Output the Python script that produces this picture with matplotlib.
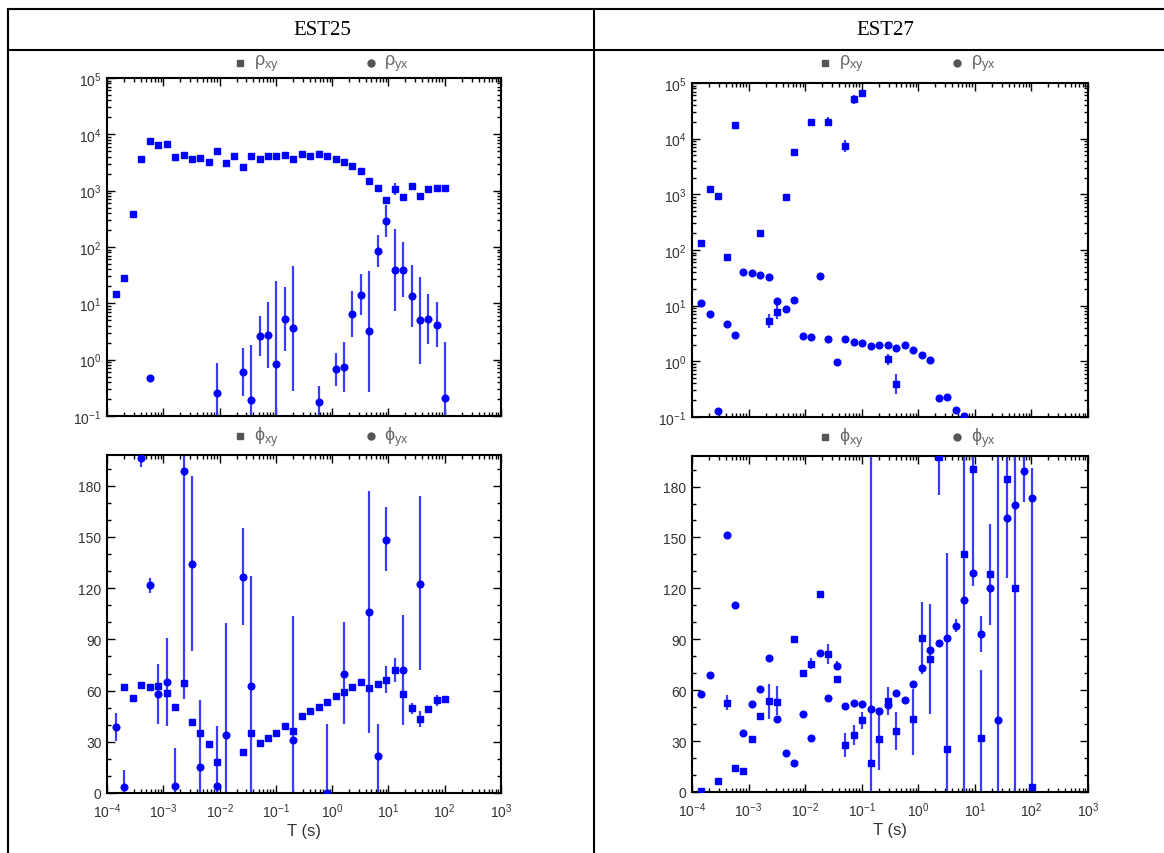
import numpy as np
import matplotlib
matplotlib.use("Agg")
import matplotlib.pyplot as plt
from matplotlib.lines import Line2D
from matplotlib.ticker import LogLocator, MultipleLocator, NullFormatter

plt.rcParams['font.family'] = ['Liberation Sans', 'DejaVu Sans']
plt.rcParams['mathtext.default'] = 'regular'

n = np.nan

# periods (s), same grid for both stations
period = [1.445e-4, 2.042e-4, 2.884e-4, 4.074e-4, 5.754e-4, 8.128e-4, 1.148e-3, 1.622e-3,
          2.291e-3, 3.236e-3, 4.571e-3, 6.457e-3, 9.120e-3, 1.288e-2, 1.820e-2, 2.570e-2,
          3.631e-2, 5.129e-2, 7.244e-2, 0.1023, 0.1445, 0.2042, 0.2884, 0.4074,
          0.5754, 0.8128, 1.148, 1.622, 2.291, 3.236, 4.571, 6.457,
          9.120, 12.88, 18.20, 25.70, 36.31, 51.29, 72.44, 102.3]

stations = ["EST25", "EST27"]

# ---- EST25 apparent resistivity
rho_xy_25 = [14.6, 27.8, 380, 3650, 7730, 6470, 6640, 3960, 4360, 3700,
             3800, 3270, 5060, 3100, 4070, 2590, 4120, 3650, 4060, 4120,
             4300, 3700, 4410, 4070, 4410, 4180, 3700, 3230, 2740, 2270,
             1460, 1130, 683, 1057, 762, 1210, 804, 1057, 1130, 1110]
rho_xy_25_lo = [n]*33 + [850, 650] + [n]*5
rho_xy_25_hi = [n]*33 + [1350, 870] + [n]*5

rho_yx_25 = [n, n, n, n, 0.47, n, n, n, n, n,
             n, n, 0.256, n, n, 0.60, 0.19, 2.6, 2.7, 0.85,
             5.3, 3.6, n, n, 0.175, n, 0.68, 0.74, 6.5, 14.3,
             3.2, 85, 293, 39.6, 39.6, 13.5, 5.0, 5.3, 4.2, 0.206]
rho_yx_25_lo = [n, n, n, n, n, n, n, n, n, n,
                n, n, 0.01, n, n, 0.226, 0.01, 1.15, 0.70, 0.01,
                1.4, 0.28, n, n, 0.01, n, 0.34, 0.27, 2.56, 6.1,
                0.27, 44, 151, 7.4, 13.1, 3.8, 0.85, 1.87, 1.66, 0.01]
rho_yx_25_hi = [n, n, n, n, n, n, n, n, n, n,
                n, n, 0.885, n, n, 1.63, 1.85, 5.9, 10.4, 24.9,
                19.8, 46, n, n, 0.34, n, 1.33, 2.1, 16.8, 32.7,
                37.5, 161, 550, 211, 123, 48, 29.3, 14.7, 10.7, 2.1]

# ---- EST25 phase
phi_xy_25 = [n, 62.1, 55.9, 63.1, 62.1, 62.5, 58.4, 50.6, 64.5, 41.8,
             35.4, 28.5, 18.2, n, n, 23.8, 35.0, 29.5, 32.1, 35.2,
             39.5, 36.2, 45.1, 48.1, 50.6, 53.2, 56.9, 59.4, 62.1, 65.1,
             61.8, 63.7, 66.3, 72.3, 58.2, 49.6, 43.6, 49.4, 54.3, 55.1]
phi_xy_25_lo = [n]*32 + [58.8, 65.1, 55.5, 46.1, 38.9, n, 51.0, n]
phi_xy_25_hi = [n]*32 + [74.5, 79.3, 61.0, 53.0, 48.1, n, 57.3, n]

phi_yx_25 = [38.9, 3.5, n, 196, 121.6, 57.8, 64.9, 3.9, 188.6, 134.3,
             15.0, n, 3.9, 34.0, n, 126.8, 62.5, n, n, n,
             n, 30.9, n, n, n, 0.0, n, 70.0, n, n,
             106.3, 21.7, 148.5, n, 71.9, n, 122.7, n, n, n]
phi_yx_25_lo = [30.6, -10, n, 191, 117.1, 40.4, 39.3, -10, 55, 83.3,
                -10, n, -10, -10, n, 98.5, -10, n, n, n,
                n, -10, n, n, n, -10, n, 40.3, n, n,
                35.4, -10, 129.8, n, 39.7, n, 71.9, n, n, n]
phi_yx_25_hi = [47.0, 13.3, n, 200, 126.2, 75.6, 90.7, 26.6, 250, 185.5,
                54.3, n, 39.3, 99.3, n, 155.2, 127.2, n, n, n,
                n, 103.8, n, n, n, 40.3, n, 99.9, n, n,
                177.1, 40.3, 167.3, n, 104.4, n, 174.1, n, n, n]

# ---- EST27 apparent resistivity
rho_xy_27 = [131, 1250, 921, 74.5, 17700, n, n, 198, 5.3, 7.8,
             884, 5730, n, 20300, n, 20300, n, 7350, 52400, 66200,
             n, n, 1.08, 0.395] + [n]*16
rho_xy_27_lo = [n, n, n, n, n, n, n, n, 4.0, 5.8,
                n, n, n, n, n, 17000, n, 5800, 42000, n,
                n, n, 0.85, 0.26] + [n]*16
rho_xy_27_hi = [n, n, n, n, n, n, n, n, 7.2, 10.3,
                n, n, n, n, n, 24500, n, 9400, 60000, n,
                n, n, 1.38, 0.60] + [n]*16

rho_yx_27 = [11.2, 7.0, 0.128, 4.7, 2.94, 40.6, 38.5, 35.9, 32.6, 12.1,
             8.7, 12.6, 2.9, 2.7, 34.4, 2.53, 0.98, 2.53, 2.26, 2.14,
             1.87, 1.98, 2.0, 1.75, 1.95, 1.61, 1.29, 1.06, 0.219, 0.225,
             0.131, 0.103] + [n]*8
rho_yx_27_lo = [n]*40
rho_yx_27_hi = [n]*40

# ---- EST27 phase
phi_xy_27 = [0.6, n, 6.3, 52.4, 14.3, 12.2, 31.4, 44.8, 53.4, 52.8,
             n, 90.3, 70.1, 75.2, 116.8, 81.3, 66.4, 27.5, 33.8, 42.2,
             16.9, 31.0, 53.6, 36.1, n, 42.8, 90.7, 78.1, 197.3, 25.3,
             n, 140.2, 190.4, 32.0, 128.2, n, 184.5, 120.1, n, 2.7]
phi_xy_27_lo = [n, n, n, 48.1, n, n, n, n, 43.2, 45.2,
                n, n, n, 72.6, n, 75.6, n, 20.6, 27.9, 37.3,
                -10, 12.8, 45.2, 24.5, n, 21.6, 69.7, 45.7, 175, -10,
                n, -10, 136.4, -10, n, n, n, -10, n, n]
phi_xy_27_hi = [n, n, n, 56.9, n, n, n, n, 63.8, 62.4,
                n, n, n, 78.9, n, 87.3, n, 34.9, 39.3, 47.1,
                250, 47.9, 61.8, 47.1, n, 60.9, 111.9, 110.9, 250, 140.8,
                n, 250, 250, 71.7, n, n, n, 250, n, n]

phi_yx_27 = [57.9, 68.7, n, 151.2, 110.3, 34.9, 51.8, 60.5, 78.9, 42.8,
             23.2, 17.3, 45.7, 32.0, 81.9, 55.2, 74.2, 50.5, 52.6, 52.0,
             48.7, 47.9, 51.4, 58.1, 54.0, 63.4, 73.0, 83.4, 87.9, 90.7,
             98.0, 113.1, 128.8, 92.9, 120.5, 42.6, 161.2, 169.4, 189.4, 173.3]
phi_yx_27_lo = [n]*16 + [72.0] + [n]*13 + [94.0, n, 121.6, 82.5, 98.5, -10, 126, n, 171, -10]
phi_yx_27_hi = [n]*16 + [77.0] + [n]*13 + [102.0, n, 136.4, 103.7, 158, 250, 250, n, 198, 191]

BLUE = '#0000ff'
BAR = '#3c3cff'
GRAY = '#666666'

W, H = 1164, 854


def box(x0, y0, x1, y1):
    return [x0 / W, 1 - y1 / H, (x1 - x0) / W, (y1 - y0) / H]


def draw(ax, sq, sq_lo, sq_hi, ci, ci_lo, ci_hi):
    T = np.array(period)
    for lo, hi in [(sq_lo, sq_hi), (ci_lo, ci_hi)]:
        lo = np.array(lo, float)
        hi = np.array(hi, float)
        m = ~np.isnan(lo)
        ax.vlines(T[m], lo[m], hi[m], color=BAR, lw=1.6, zorder=2)
    for v, mk in [(sq, 's'), (ci, 'o')]:
        ax.plot(T, v, ls='none', marker=mk, ms=4.8, color=BLUE, mec=BLUE, zorder=3)


def style(ax, log_y, xlabels):
    ax.set_xscale('log')
    ax.set_xlim(1e-4, 1e3)
    ax.xaxis.set_major_locator(LogLocator(base=10, numticks=20))
    ax.xaxis.set_minor_locator(LogLocator(base=10, subs=np.arange(2, 10), numticks=20))
    if log_y:
        ax.set_yscale('log')
        ax.set_ylim(0.1, 1e5)
        ax.yaxis.set_major_locator(LogLocator(base=10, numticks=20))
        ax.yaxis.set_minor_locator(LogLocator(base=10, subs=np.arange(2, 10), numticks=20))
        ax.yaxis.set_minor_formatter(NullFormatter())
    else:
        ax.set_ylim(0, 198)
        ax.yaxis.set_major_locator(MultipleLocator(30))
        ax.yaxis.set_minor_locator(MultipleLocator(10))
    ax.tick_params(which='both', direction='in', top=True, right=True,
                   labelsize=10, labelcolor='#333333', width=1.0, pad=4)
    ax.tick_params(axis='x', pad=6)
    ax.tick_params(which='major', length=6)
    ax.tick_params(which='minor', length=3)
    ax.xaxis.set_minor_formatter(NullFormatter())
    if not xlabels:
        ax.tick_params(axis='x', labelbottom=False)
    else:
        ax.set_xlabel('T (s)', fontsize=12, color='#333333', labelpad=2)
    for s in ax.spines.values():
        s.set_linewidth(1.5)


def legend(ax, names, dy):
    y = 1 + dy / (ax.get_position().height * H)
    for xm, mk, name in [(0.337, 's', names[0]), (0.669, 'o', names[1])]:
        ax.plot([xm], [y], marker=mk, ms=5, color='#555555', ls='none',
                transform=ax.transAxes, clip_on=False)
        ax.text(xm + 0.035, y, name, transform=ax.transAxes, fontsize=13,
                color=GRAY, va='center', ha='left')


fig = plt.figure(figsize=(W / 100, H / 100), dpi=100)

# table frame
for x0, y0, x1, y1 in [(8, 10, W, 10), (8, 51, W, 51), (8, 10, 8, H), (594, 10, 594, H)]:
    fig.add_artist(Line2D([x0 / W, x1 / W], [1 - y0 / H, 1 - y1 / H],
                          transform=fig.transFigure, color='black', lw=1.5))
fig.text(322 / W, 1 - 30.5 / H, stations[0], ha='center', va='center',
         fontsize=15, family='Liberation Serif')
fig.text(885 / W, 1 - 30.5 / H, stations[1], ha='center', va='center',
         fontsize=15, family='Liberation Serif')

ax_lt = fig.add_axes(box(107, 79, 501, 417))
ax_lb = fig.add_axes(box(107, 456, 501, 794))
ax_rt = fig.add_axes(box(692, 84, 1088, 418))
ax_rb = fig.add_axes(box(692, 457, 1088, 793))

draw(ax_lt, rho_xy_25, rho_xy_25_lo, rho_xy_25_hi, rho_yx_25, rho_yx_25_lo, rho_yx_25_hi)
draw(ax_lb, phi_xy_25, phi_xy_25_lo, phi_xy_25_hi, phi_yx_25, phi_yx_25_lo, phi_yx_25_hi)
draw(ax_rt, rho_xy_27, rho_xy_27_lo, rho_xy_27_hi, rho_yx_27, rho_yx_27_lo, rho_yx_27_hi)
draw(ax_rb, phi_xy_27, phi_xy_27_lo, phi_xy_27_hi, phi_yx_27, phi_yx_27_lo, phi_yx_27_hi)

style(ax_lt, True, False)
style(ax_rt, True, False)
style(ax_lb, False, True)
style(ax_rb, False, True)

rho_names = [r'$\rho_{xy}$', r'$\rho_{yx}$']
phi_names = [r'$\phi_{xy}$', r'$\phi_{yx}$']
legend(ax_lt, rho_names, 15)
legend(ax_rt, rho_names, 20)
legend(ax_lb, phi_names, 19)
legend(ax_rb, phi_names, 19)

fig.savefig('out.png', dpi=100)
